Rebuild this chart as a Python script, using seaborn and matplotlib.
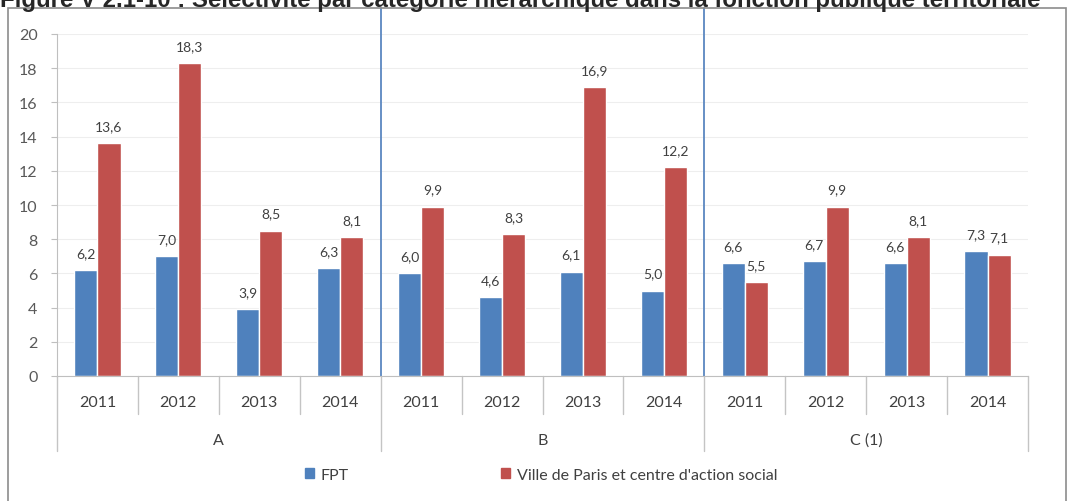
import pandas as pd
import seaborn as sns
import matplotlib.pyplot as plt
from matplotlib.patches import Rectangle, Patch

TITLE = "Figure V 2.1-10 : Sélectivité par catégorie hiérarchique dans la fonction publique territoriale"

categories = ['A', 'B', 'C (1)']
years = ['2011', '2012', '2013', '2014']
series = ['FPT', "Ville de Paris et centre d'action social"]
fpt = [6.2, 7.0, 3.9, 6.3, 6.0, 4.6, 6.1, 5.0, 6.6, 6.7, 6.6, 7.3]
ville = [13.6, 18.3, 8.5, 8.1, 9.9, 8.3, 16.9, 12.2, 5.5, 9.9, 8.1, 7.1]
colors = ['#4F81BD', '#C0504D']

# one slot per (category, year)
slots = [c + ' ' + y for c in categories for y in years]
df = pd.DataFrame({
    'slot': slots * 2,
    'serie': [series[0]] * len(slots) + [series[1]] * len(slots),
    'valeur': fpt + ville,
})

sns.set_style('white')
plt.rcParams['font.family'] = ['Lato', 'DejaVu Sans']

W, H = 1069, 502
fig = plt.figure(figsize=(W / 100, H / 100), dpi=100)
ax = fig.add_axes([57 / W, 1 - 377 / H, (1028 - 57) / W, (377 - 35) / H])

sns.barplot(data=df, x='slot', y='valeur', hue='serie', order=slots,
            hue_order=series, palette=colors, width=0.57, gap=0,
            saturation=1, legend=False, ax=ax)

for cont in ax.containers:
    ax.bar_label(cont, labels=[f'{b.get_height():.1f}'.replace('.', ',') for b in cont],
                 padding=8, fontsize=10, color='#404040')

ax.set_xlim(-0.5, len(slots) - 0.5)
ax.set_ylim(0, 20)
ax.set_yticks(range(0, 21, 2))
ax.set_xlabel('')
ax.set_ylabel('')
ax.yaxis.grid(True, color='#eeeeee', lw=0.8)
ax.set_axisbelow(True)
for s in ['top', 'right']:
    ax.spines[s].set_visible(False)
ax.spines['left'].set_color('#bfbfbf')
ax.spines['bottom'].set_color('#bfbfbf')
ax.tick_params(axis='y', length=4, color='#bfbfbf', labelsize=11.5,
               labelcolor='#595959', pad=10, left=True)
ax.set_xticks(range(len(slots)))
ax.set_xticklabels(years * len(categories))
ax.tick_params(axis='x', length=0, labelsize=11.5, labelcolor='#404040', pad=14)

# px to data units on y
upx = 20 / (377 - 35)

# separators under the x axis
for i in range(len(slots) + 1):
    x = i - 0.5
    depth = 75 if i % len(years) == 0 else 38
    ax.plot([x, x], [0, -depth * upx], color='#c4c4c4', lw=1, clip_on=False)

# group labels
for j, c in enumerate(categories):
    ax.text(j * len(years) + 1.5, -64 * upx, c, ha='center', va='center',
            fontsize=11.5, color='#404040')

# blue dividers between categories, up to the frame
for j in range(1, len(categories)):
    x = j * len(years) - 0.5
    ax.plot([x, x], [0, 20 + 26 * upx], color='#5b87c0', lw=1.3, clip_on=False)

handles = [Patch(color=colors[0], label=series[0]), Patch(color=colors[1], label=series[1])]
fig.legend(handles=handles, loc='center', bbox_to_anchor=(541 / W, 1 - 476 / H), ncol=2,
           frameon=False, fontsize=11.5, handlelength=0.6, handleheight=0.6,
           handletextpad=0.4, columnspacing=9.5, labelcolor='#404040')

fig.patches.append(Rectangle((8 / W, -0.05), (1066 - 8) / W, 1.05 - 9 / H,
                             transform=fig.transFigure, fill=False,
                             edgecolor='#8c8c8c', lw=1.2))

fig.text(0, 1 - 7 / H, TITLE, fontsize=17.3, fontweight='bold', va='baseline',
         family='Liberation Sans')

fig.savefig('out.png', dpi=100)
